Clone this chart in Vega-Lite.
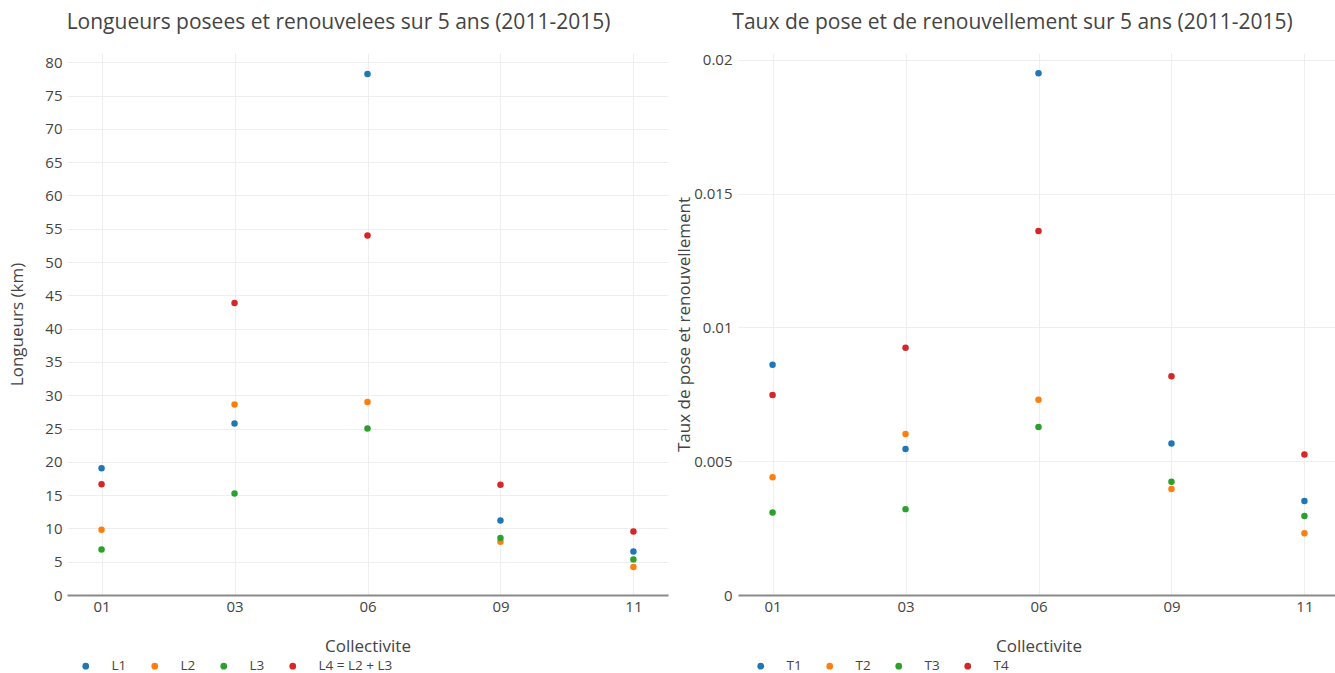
{
  "$schema": "https://vega.github.io/schema/vega-lite/v6.json",
  "background": "white",
  "padding": {"left": 8, "top": 11, "right": 0, "bottom": 0},
  "spacing": 7,
  "config": {
    "font": "Open Sans",
    "view": {"stroke": null},
    "axis": {"labelFont": "Open Sans", "titleFont": "Open Sans", "labelColor": "#444", "titleColor": "#444", "labelFontSize": 15, "titleFontSize": 17, "titleFontWeight": "normal", "gridColor": "#eeeeee", "gridWidth": 1, "ticks": false},
    "legend": {"labelFont": "Open Sans", "labelFontSize": 13.5, "labelColor": "#444"},
    "title": {"font": "Open Sans", "fontSize": 21, "fontWeight": "normal", "color": "#444"}
  },
  "datasets": {
    "longueurs": [
      {"collectivite": "01", "serie": "L1", "valeur": 19.05},
      {"collectivite": "01", "serie": "L2", "valeur": 9.8},
      {"collectivite": "01", "serie": "L3", "valeur": 6.85},
      {"collectivite": "01", "serie": "L4 = L2 + L3", "valeur": 16.65},
      {"collectivite": "03", "serie": "L1", "valeur": 25.75},
      {"collectivite": "03", "serie": "L2", "valeur": 28.6},
      {"collectivite": "03", "serie": "L3", "valeur": 15.25},
      {"collectivite": "03", "serie": "L4 = L2 + L3", "valeur": 43.85},
      {"collectivite": "06", "serie": "L1", "valeur": 78.25},
      {"collectivite": "06", "serie": "L2", "valeur": 29.0},
      {"collectivite": "06", "serie": "L3", "valeur": 25.0},
      {"collectivite": "06", "serie": "L4 = L2 + L3", "valeur": 54.0},
      {"collectivite": "09", "serie": "L1", "valeur": 11.2},
      {"collectivite": "09", "serie": "L2", "valeur": 8.0},
      {"collectivite": "09", "serie": "L3", "valeur": 8.55},
      {"collectivite": "09", "serie": "L4 = L2 + L3", "valeur": 16.55},
      {"collectivite": "11", "serie": "L1", "valeur": 6.55},
      {"collectivite": "11", "serie": "L2", "valeur": 4.2},
      {"collectivite": "11", "serie": "L3", "valeur": 5.35},
      {"collectivite": "11", "serie": "L4 = L2 + L3", "valeur": 9.55}
    ],
    "taux": [
      {"collectivite": "01", "serie": "T1", "valeur": 0.00861},
      {"collectivite": "01", "serie": "T2", "valeur": 0.0044},
      {"collectivite": "01", "serie": "T3", "valeur": 0.00308},
      {"collectivite": "01", "serie": "T4", "valeur": 0.00748},
      {"collectivite": "03", "serie": "T1", "valeur": 0.00546},
      {"collectivite": "03", "serie": "T2", "valeur": 0.00602},
      {"collectivite": "03", "serie": "T3", "valeur": 0.00321},
      {"collectivite": "03", "serie": "T4", "valeur": 0.00924},
      {"collectivite": "06", "serie": "T1", "valeur": 0.0195},
      {"collectivite": "06", "serie": "T2", "valeur": 0.0073},
      {"collectivite": "06", "serie": "T3", "valeur": 0.00628},
      {"collectivite": "06", "serie": "T4", "valeur": 0.01361},
      {"collectivite": "09", "serie": "T1", "valeur": 0.00566},
      {"collectivite": "09", "serie": "T2", "valeur": 0.00396},
      {"collectivite": "09", "serie": "T3", "valeur": 0.00423},
      {"collectivite": "09", "serie": "T4", "valeur": 0.00818},
      {"collectivite": "11", "serie": "T1", "valeur": 0.00351},
      {"collectivite": "11", "serie": "T2", "valeur": 0.00231},
      {"collectivite": "11", "serie": "T3", "valeur": 0.00295},
      {"collectivite": "11", "serie": "T4", "valeur": 0.00525}
    ]
  },
  "resolve": {"scale": {"color": "independent", "x": "independent", "y": "independent"}, "legend": {"color": "independent"}},
  "hconcat": [
    {
      "width": 601,
      "height": 542,
      "title": {"text": "Longueurs posees et renouvelees sur 5 ans (2011-2015)", "dx": -29, "offset": 20},
      "data": {"name": "longueurs"},
      "mark": {"type": "circle", "size": 42, "opacity": 1},
      "encoding": {
        "x": {"field": "collectivite", "type": "ordinal", "title": "Collectivite",
          "scale": {"type": "point", "padding": 0.26},
          "axis": {"labelAngle": 0, "grid": true, "domainColor": "#8a8a8a", "domainWidth": 2, "labelPadding": 4, "titlePadding": 24}},
        "y": {"field": "valeur", "type": "quantitative", "title": "Longueurs (km)",
          "scale": {"domain": [0, 81.4], "nice": false, "zero": true},
          "axis": {"values": [0, 5, 10, 15, 20, 25, 30, 35, 40, 45, 50, 55, 60, 65, 70, 75, 80], "domain": false, "labelPadding": 5, "titlePadding": 18}},
        "color": {"field": "serie", "type": "nominal",
          "scale": {"domain": ["L1", "L2", "L3", "L4 = L2 + L3"], "range": ["#1f77b4", "#ff7f0e", "#2ca02c", "#d62728"]},
          "legend": {"title": null, "orient": "none", "direction": "horizontal", "legendX": 12, "legendY": 606, "symbolType": "circle", "symbolSize": 45, "labelOffset": 19, "columnPadding": 21, "symbolStrokeWidth": 0}}
      }
    },
    {
      "width": 601,
      "height": 542,
      "title": {"text": "Taux de pose et de renouvellement sur 5 ans (2011-2015)", "dx": -26, "offset": 20},
      "data": {"name": "taux"},
      "mark": {"type": "circle", "size": 42, "opacity": 1},
      "encoding": {
        "x": {"field": "collectivite", "type": "ordinal", "title": "Collectivite",
          "scale": {"type": "point", "padding": 0.26},
          "axis": {"labelAngle": 0, "grid": true, "domainColor": "#8a8a8a", "domainWidth": 2, "labelPadding": 4, "titlePadding": 24}},
        "y": {"field": "valeur", "type": "quantitative", "title": "Taux de pose et renouvellement",
          "scale": {"domain": [0, 0.02026], "nice": false, "zero": true},
          "axis": {"values": [0, 0.005, 0.01, 0.015, 0.02], "labelExpr": "datum.value == 0 ? '0' : format(datum.value, '~g')", "domain": false, "labelPadding": 6, "titlePadding": 0}},
        "color": {"field": "serie", "type": "nominal",
          "scale": {"domain": ["T1", "T2", "T3", "T4"], "range": ["#1f77b4", "#ff7f0e", "#2ca02c", "#d62728"]},
          "legend": {"title": null, "orient": "none", "direction": "horizontal", "legendX": 16, "legendY": 606, "symbolType": "circle", "symbolSize": 45, "labelOffset": 19, "columnPadding": 21, "symbolStrokeWidth": 0}}
      }
    }
  ]
}
